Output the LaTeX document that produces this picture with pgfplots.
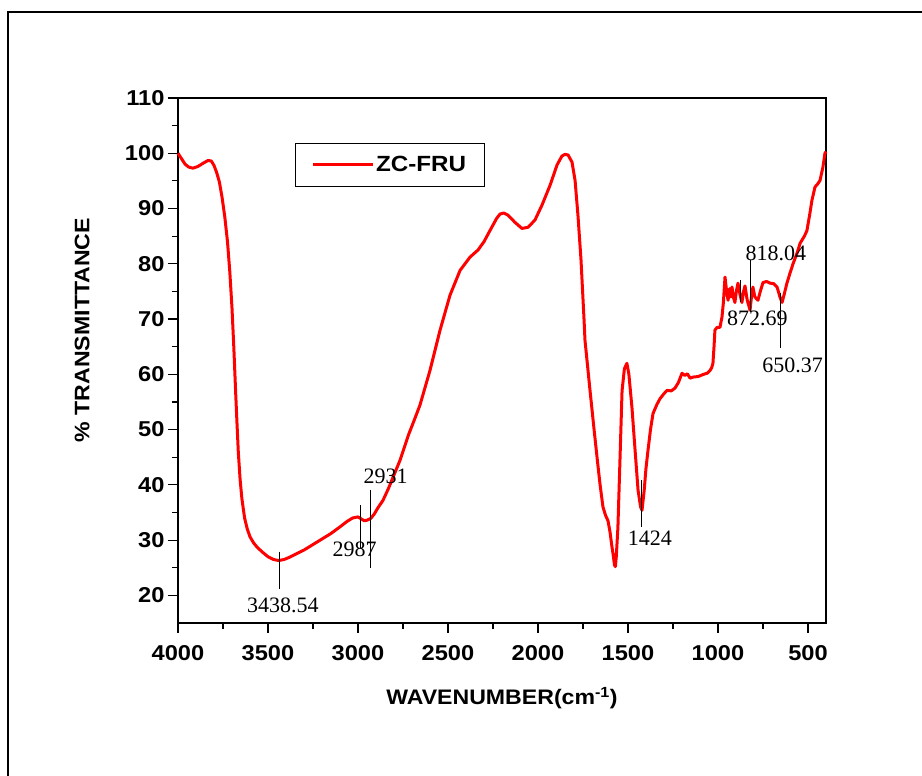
\documentclass[border=0pt]{standalone}
\usepackage{pgfplots}
\pgfplotsset{compat=1.18}
\usepackage{fontspec}
\setmainfont[FakeStretch=1.1]{Liberation Sans}
\newfontfamily\peakfont{Liberation Serif}

% FT-IR spectrum of ZC-FRU: wavenumber (cm^-1) vs. % transmittance
\pgfplotstableread{
wn T
4000 100.0
3980 99.0
3960 98.0
3940 97.5
3917 97.3
3890 97.6
3860 98.2
3833 98.7
3815 98.6
3800 97.8
3785 96.5
3770 94.8
3755 92.0
3740 88.5
3725 84.0
3712 78.5
3700 72.0
3690 65.0
3680 57.0
3672 51.0
3665 46.0
3655 41.0
3645 37.5
3630 34.0
3615 32.0
3600 30.6
3580 29.5
3560 28.7
3530 27.8
3500 27.0
3470 26.5
3440 26.3
3410 26.5
3380 26.9
3350 27.4
3300 28.2
3250 29.2
3200 30.2
3150 31.2
3100 32.4
3060 33.4
3030 34.0
3000 34.2
2985 33.9
2965 33.5
2950 33.6
2930 33.9
2910 34.7
2890 35.8
2861 37.2
2830 39.4
2800 41.8
2767 44.4
2720 49.0
2690 51.5
2656 54.4
2600 60.7
2544 68.0
2489 74.3
2433 78.8
2378 81.2
2333 82.5
2300 84.0
2267 86.0
2230 88.2
2211 89.0
2190 89.2
2167 88.8
2128 87.5
2089 86.4
2056 86.6
2017 87.9
1978 90.6
1933 94.2
1894 97.9
1867 99.5
1850 99.8
1833 99.7
1811 98.4
1794 95.1
1778 88.8
1761 80.7
1744 69.8
1739 66.2
1711 57.1
1690 50.5
1672 45.0
1655 40.0
1639 36.0
1625 34.5
1611 33.5
1600 31.5
1590 29.0
1583 27.5
1575 25.5
1570 25.2
1565 27.0
1556 32.3
1545 44.0
1533 57.0
1520 61.0
1506 62.0
1495 60.0
1478 54.0
1460 46.0
1444 39.0
1430 36.0
1422 35.4
1410 39.0
1400 43.0
1389 46.2
1375 50.0
1361 52.9
1340 54.5
1322 55.6
1300 56.5
1283 57.1
1260 57.0
1239 57.5
1220 58.5
1200 60.2
1185 59.8
1170 60.1
1155 59.3
1139 59.5
1110 59.6
1080 60.0
1060 60.2
1044 60.7
1035 61.2
1028 62.0
1022 65.0
1017 68.0
1005 68.5
989 68.5
983 69.5
978 70.3
970 73.0
961 77.6
952 75.0
944 73.4
935 75.5
928 74.0
922 75.8
915 74.0
906 73.0
898 75.0
889 76.5
878 74.5
867 73.0
858 75.0
850 76.0
838 73.5
822 71.6
814 74.0
806 75.8
795 74.0
778 73.4
765 75.0
750 76.6
730 76.8
711 76.5
690 76.4
672 75.8
660 74.5
656 74.0
644 73.0
632 74.5
617 76.5
600 78.3
583 80.0
560 82.0
544 83.7
520 85.0
506 86.0
490 89.0
478 91.5
461 93.9
445 94.5
433 95.1
417 97.5
406 100.0
400 100.3
}\spectrum

\begin{document}
\begin{tikzpicture}
\useasboundingbox (0pt,0pt) rectangle (922pt,-776pt);
% outer frame
\draw[line width=2.5pt] (8pt,-790pt) -- (8pt,-12pt) -- (940pt,-12pt);
\begin{axis}[
  at={(178pt,-623pt)}, anchor=south west,
  scale only axis, width=648pt, height=525pt,
  x dir=reverse,
  xmin=400, xmax=4000, ymin=15, ymax=110,
  xtick={500,1000,...,4000}, ytick={20,30,...,110},
  minor x tick num=1, minor y tick num=1,
  xtick pos=left, ytick pos=left,
  tick align=outside,
  major tick length=10pt, minor tick length=6pt,
  axis line style={line width=1.2pt},
  every tick/.style={line width=1.2pt, black},
  /pgf/number format/assume math mode=true,
  /pgf/number format/1000 sep={},
  ticklabel style={font=\fontsize{21.5}{21.5}\selectfont\bfseries},
  xticklabel style={yshift=-9pt},
  xlabel={WAVENUMBER(cm\textsuperscript{-1})},
  ylabel={\% TRANSMITTANCE},
  label style={font=\fontsize{21}{21}\selectfont\bfseries},
  xlabel style={at={(axis description cs:0.5,-0.143)}, anchor=center},
  ylabel style={at={(axis description cs:-0.148,0.558)}, anchor=center},
  legend style={at={(axis description cs:0.18,0.915)}, anchor=north west,
    draw=black, line width=0.8pt, inner xsep=16pt, inner ysep=11.5pt,
    font=\fontsize{22}{22}\selectfont\bfseries},
  legend image code/.code={\draw[#1] (0pt,0pt) -- (60pt,0pt);},
  clip=false,
]
\addplot[red, line width=3pt, line join=round] table[x=wn, y=T] {\spectrum};
\addlegendentry{ZC-FRU}

% peak markers
\begin{scope}[line width=1pt, black]
\draw (axis cs:3438.54,27.9) -- (axis cs:3438.54,21.2);
\draw (axis cs:2987,36.3) -- (axis cs:2987,28.5);
\draw (axis cs:2931,39.0) -- (axis cs:2931,25.0);
\draw (axis cs:1424,40.8) -- (axis cs:1424,32.3);
\draw (axis cs:818.04,80.7) -- (axis cs:818.04,71.2);
\draw (axis cs:872.69,77.0) -- (axis cs:872.69,73.0);
\draw (axis cs:650.37,74.7) -- (axis cs:650.37,64.7);
\end{scope}
\begin{scope}[every node/.style={font=\fontsize{22}{22}\selectfont\peakfont, inner sep=0pt, anchor=center}]
\node at (axis cs:3417,18.2) {3438.54};
\node at (axis cs:3019,28.3) {2987};
\node at (axis cs:2847,41.5) {2931};
\node at (axis cs:1378,30.3) {1424};
\node at (axis cs:678,81.9) {818.04};
\node at (axis cs:781,70.1) {872.69};
\node at (axis cs:586,61.6) {650.37};
\end{scope}
\end{axis}
\end{tikzpicture}
\end{document}
